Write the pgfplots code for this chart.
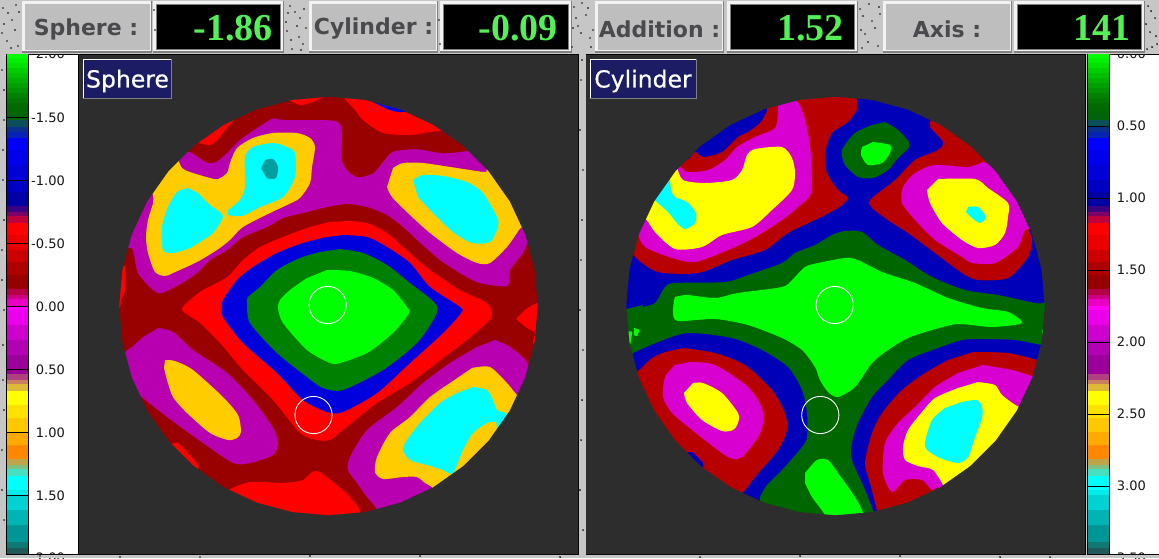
\documentclass[border=0pt]{standalone}
\usepackage{fontspec}
\usepackage{pgfplots}
\usepackage{pgfplotstable}
\pgfplotsset{compat=1.18}
\setmainfont{DejaVu Sans}
\newfontfamily\numfont{Liberation Serif}
\newfontfamily\ttlfont[FakeBold=0.5]{DejaVu Sans}
\definecolor{bgc}{HTML}{C6C6C6}
\definecolor{cellc}{HTML}{BEBEBE}
\definecolor{panelc}{HTML}{2D2D2D}
\definecolor{navyc}{HTML}{1C1C64}
\definecolor{txtc}{HTML}{4A4A4E}
\definecolor{numc}{HTML}{55F055}
\definecolor{dkred}{HTML}{990000}
\definecolor{redc}{HTML}{FF0000}
\definecolor{bluc}{HTML}{0000DD}
\definecolor{dgreen}{HTML}{008000}
\definecolor{limec}{HTML}{00FF00}
\definecolor{purp}{HTML}{B800B0}
\definecolor{goldc}{HTML}{FFCC00}
\definecolor{cyanc}{HTML}{00FFFF}
\definecolor{tealc}{HTML}{009E9E}
\definecolor{rb}{HTML}{0000B8}
\definecolor{rg}{HTML}{006600}
\definecolor{rr}{HTML}{B80000}
\definecolor{rm}{HTML}{D800D0}
\definecolor{yelc}{HTML}{FFFF00}
\pgfplotstableread{
x y
537.8 306
534.6 342.3
525.2 377.6
509.8 410.7
488.8 440.5
463 466.3
433.2 487.3
400.1 502.7
364.8 512.1
328.5 515.3
292.2 512.1
256.9 502.7
223.8 487.3
194 466.3
168.2 440.5
147.2 410.7
131.8 377.6
122.4 342.3
119.2 306
122.4 269.7
131.8 234.4
147.2 201.3
168.2 171.5
194 145.7
223.8 124.7
256.9 109.3
292.2 99.9
328.5 96.7
364.8 99.9
400.1 109.3
433.2 124.7
463 145.7
488.8 171.5
509.8 201.3
525.2 234.4
534.6 269.7
537.8 306
578 306
578 55
79 55
79 554
578 554
578 306
}\masktable
\newcommand\reg[2]{\addplot[fill=#1,draw=none,forget plot,smooth,tension=0.45] coordinates {#2} --cycle;}
\newcommand\rect[5]{\addplot[fill=#5,draw=none,forget plot] coordinates {(#1,#2) (#3,#2) (#3,#4) (#1,#4)} --cycle;}
\newcommand\band[5]{%
\addplot[fill={rgb,255:red,#3;green,#4;blue,#5},draw=none,forget plot] coordinates {(7,#1) (28,#1) (28,#2) (7,#2)} --cycle;
\addplot[fill={rgb,255:red,#3;green,#4;blue,#5},draw=none,forget plot] coordinates {(1088,#1) (1109,#1) (1109,#2) (1088,#2)} --cycle;}
\newcommand\bevel[6]{% x0 y0 x1 y1 light dark
\rect{#1}{#2}{#3}{#4}{#6}
\rect{#1}{#2}{#3-1.2}{#4-1.2}{#5}}
\newcommand\cell[2]{%
\bevel{#1}{1}{#2}{52.5}{white!95!black}{gray}
\rect{#1+2.5}{4}{#2-2.5}{50}{cellc}}
\newcommand\readout[2]{%
\bevel{#1-4}{1}{#2+4}{52.5}{white!95!black}{gray}
\rect{#1-1}{4}{#2+1}{50}{gray}
\rect{#1}{5}{#2}{49}{black}}
\pgfplotsset{pix/.style={at={(0,0)},anchor=south west,width=1159pt,height=558pt,scale only axis,
 xmin=0,xmax=1159,ymin=0,ymax=558,y dir=reverse,hide axis}}
\begin{document}
\begin{tikzpicture}
\path[use as bounding box] (0,0) rectangle (1159pt,558pt);
% ---------- colour scales
\begin{axis}[pix]
\rect{0}{0}{1159}{558}{bgc}
\rect{6}{54}{78.5}{555}{black}
\rect{7}{55}{28}{554}{white}
\rect{29}{55}{77.5}{554}{white}
\rect{1087}{54}{1159}{555}{black}
\rect{1110}{55}{1159}{554}{white}
\band{54}{58}{0}{255}{0}
\band{58}{63}{0}{240}{0}
\band{63}{68}{0}{225}{0}
\band{68}{73}{0}{205}{0}
\band{73}{78}{0}{190}{0}
\band{78}{83}{0}{175}{0}
\band{83}{88}{0}{160}{0}
\band{88}{93}{0}{145}{0}
\band{93}{98}{0}{130}{0}
\band{98}{103}{0}{118}{0}
\band{103}{108}{0}{108}{0}
\band{108}{113}{0}{104}{0}
\band{113}{120}{0}{100}{10}
\band{120}{127}{10}{80}{90}
\band{127}{132}{10}{50}{140}
\band{132}{138}{5}{35}{180}
\band{138}{150}{0}{0}{255}
\band{150}{165}{0}{0}{235}
\band{165}{180}{0}{0}{215}
\band{180}{192}{0}{0}{195}
\band{192}{206}{0}{0}{165}
\band{206}{212}{60}{0}{130}
\band{212}{216}{125}{0}{100}
\band{216}{223}{190}{0}{60}
\band{223}{235}{255}{0}{0}
\band{235}{250}{235}{0}{0}
\band{250}{262}{205}{0}{0}
\band{262}{275}{175}{0}{0}
\band{275}{289}{150}{0}{0}
\band{289}{295}{180}{0}{70}
\band{295}{299}{205}{0}{130}
\band{299}{306}{235}{0}{195}
\band{306}{310}{255}{0}{255}
\band{310}{325}{235}{0}{235}
\band{325}{340}{205}{0}{205}
\band{340}{355}{180}{0}{180}
\band{355}{374}{155}{0}{155}
\band{374}{380}{176}{64}{128}
\band{380}{384}{200}{128}{96}
\band{384}{391}{224}{184}{56}
\band{391}{405}{255}{255}{0}
\band{405}{418}{255}{225}{0}
\band{418}{432}{255}{200}{0}
\band{432}{445}{255}{170}{0}
\band{445}{459}{255}{136}{0}
\band{459}{465}{191}{165}{72}
\band{465}{469}{127}{191}{128}
\band{469}{476}{68}{224}{192}
\band{476}{490}{0}{255}{255}
\band{490}{495}{0}{235}{235}
\band{495}{510}{0}{210}{210}
\band{510}{525}{0}{180}{180}
\band{525}{542}{0}{150}{150}
\band{542}{548}{15}{120}{115}
\band{548}{554}{30}{90}{90}
% tick lines
\rect{7}{117.2}{28}{118.2}{black}
\rect{7}{179.8}{28}{180.8}{black}
\rect{7}{242.6}{28}{243.6}{black}
\rect{7}{305.5}{28}{306.5}{black}
\rect{7}{368.5}{28}{369.5}{black}
\rect{7}{431.5}{28}{432.5}{black}
\rect{7}{494.5}{28}{495.5}{black}
\rect{1088}{125.5}{1109}{126.5}{black}
\rect{1088}{197.5}{1109}{198.5}{black}
\rect{1088}{269.5}{1109}{270.5}{black}
\rect{1088}{341.5}{1109}{342.5}{black}
\rect{1088}{413.5}{1109}{414.5}{black}
\rect{1088}{485.5}{1109}{486.5}{black}
\end{axis}
\begin{axis}[pix]
\addplot[only marks,mark=none,forget plot,
 nodes near coords,
 point meta=explicit symbolic,
 nodes near coords style={anchor=east,inner sep=0pt,font=\fontsize{13}{15}\selectfont,color=black!92},
 nodes near coords align={anchor=east}]
 table[meta=l,x=x,y=y] {
x y l
65 54 2.00
65 117.5 -1.50
65 180.5 -1.00
65 243.5 -0.50
65 306.5 0.00
65 369.5 0.50
65 432.5 1.00
65 495.5 1.50
65 558 2.00
1146 54 0.00
1146 126 0.50
1146 198 1.00
1146 270 1.50
1146 342 2.00
1146 414 2.50
1146 486 3.00
1146 558 3.50
};
\end{axis}
% ---------- Sphere map and Cylinder map
\begin{axis}[pix]
\rect{0}{0}{1159}{54}{bgc}
\rect{0}{555}{1159}{558}{bgc}
% stone texture of the window background
\addplot[only marks,mark=*,mark size=0.7pt,mark options={draw=none,fill=white},forget plot] coordinates {
(3,8)(12,20)(7,41)(16,5)(2,33)(18,46)(290,6)(300,18)(287,31)(303,44)(295,12)(306,28)(292,49)(299,37)(574,7)(586,15)(578,26)(590,38)(572,47)(582,3)(593,30)(860,9)(872,21)(865,34)(878,46)(869,4)(880,14)(862,48)(1148,6)(1155,18)(1150,32)(1157,44)(1147,49)(154,10)(155,30)(439,20)(440,44)(2,70)(4,120)(3,180)(2,250)(4,310)(3,380)(2,450)(4,520)(581,80)(583,170)(581,260)(583,350)(581,440)(583,530)(40,556)(200,557)(420,556)(700,557)(900,556)(1050,557)
};
\addplot[only marks,mark=*,mark size=0.7pt,mark options={draw=none,fill=gray},forget plot] coordinates {
(8,13)(15,30)(4,24)(11,48)(19,12)(288,13)(297,26)(304,9)(291,40)(301,50)(286,22)(576,18)(588,8)(581,33)(591,47)(573,28)(863,16)(875,28)(868,42)(879,7)(861,30)(1151,11)(1146,24)(1156,36)(1152,47)(4,90)(3,150)(4,220)(2,280)(3,345)(4,410)(2,490)(582,60)(580,130)(582,220)(580,310)(582,400)(580,490)(120,557)(310,556)(560,557)(800,556)(1000,557)
};
\rect{78.5}{54}{579}{555}{black}
\rect{79}{55}{578}{554}{dkred}
\reg{redc}{(343,97)(355,110)(363,120)(383,133)(410,135)(430,132)(443,130)(450,120)(400,90)(343,85)}
\reg{bluc}{(365,98)(373,102)(385,108)(393,111)(406,112)(410,105)(380,90)}
\reg{redc}{(288,100)(300,105)(310,103)(323,97)(323,90)(288,90)}
\reg{redc}{(198,143)(210,145)(217,140)(227,128)(238,115)(232,110)(195,130)}
\reg{redc}{(125,266)(125,290)(121,300)(120,307)(112,307)(112,266)}
\reg{redc}{(516,319)(525,310)(537,303)(545,303)(545,343)(533,343)(535,333)(527,328)}
\reg{redc}{(228,490)(250,482)(283,483)(303,480)(312,472)(320,472)(337,485)(350,497)(360,513)(340,530)(260,530)(228,500)}
\reg{redc}{(171,444)(178,443)(188,453)(198,465)(195,472)(165,450)}
\reg{purp}{(468.3,151)(443.3,153.3)(416.7,149.3)(393.3,151.7)(383.3,161.7)(373.3,173.3)(358.3,177.3)(348.3,171.7)(341.7,160)(341.7,130)(333.3,120.7)(283.3,120)(273.3,118.3)(256.7,128.3)(240,140)(226.7,153.3)(216.7,161.7)(206.7,162.7)(188.3,151.7)(178.3,160)(150,190)(110,250)(128,248)(133,250)(138,273)(153,290)(162,293)(182,283)(197,273)(210,260)(227,250)(243,237)(267,227)(283,218)(303,213)(327,207)(347,204)(367,207)(387,215)(403,227)(417,240)(440,260)(463,275)(480,283)(507,286)(510,270)(523,253)(527,244)(540,240)(530,190)(490,150)}
\reg{goldc}{(178,159)(182,168)(190,172)(210,178)(218,179)(227,173)(230,163)(237,148)(253,138)(273,133)(297,133)(310,138)(315,147)(312,167)(310,183)(300,198)(287,205)(270,213)(243,227)(230,240)(217,250)(197,262)(173,273)(165,276)(155,272)(148,253)(146,237)(148,220)(153,203)(152,193)(140,190)(165,160)}
\reg{cyanc}{(188,188)(177,192)(168,207)(162,227)(163,250)(173,253)(190,248)(203,240)(213,233)(223,216)(210,205)(198,193)}
\reg{cyanc}{(228,215)(242,216)(260,207)(283,197)(295,177)(295,153)(287,147)(273,143)(253,147)(245,157)(245,187)(240,200)(228,210)}
\reg{tealc}{(265,160)(273,159)(278,167)(276,178)(267,178)(261,168)}
\reg{goldc}{(393,168)(403,163)(423,163)(457,168)(485,172)(487,168)(500,165)(540,220)(522,227)(517,233)(507,247)(490,263)(477,263)(457,253)(430,233)(410,215)(392,197)(387,187)}
\reg{cyanc}{(413,180)(423,175)(443,176)(467,182)(483,193)(497,217)(498,227)(490,242)(472,243)(453,232)(433,213)(418,197)}
\reg{redc}{(347,221)(367,223)(387,233)(410,253)(430,270)(460,290)(487,303)(492,315)(487,323)(463,343)(443,358)(410,383)(377,403)(343,430)(330,440)(317,440)(300,433)(273,400)(243,370)(220,343)(200,323)(182,310)(190,300)(203,290)(227,277)(243,260)(260,247)(283,237)(310,227)(330,222)}
\reg{bluc}{(343,235)(367,237)(387,247)(410,263)(430,287)(460,307)(461,313)(443,333)(410,363)(377,393)(343,412)(327,412)(303,400)(277,373)(243,343)(223,317)(222,307)(223,300)(237,280)(253,267)(277,253)(303,243)(327,237)}
\reg{dgreen}{(340,249)(363,253)(387,265)(410,283)(435,303)(436,315)(417,343)(383,370)(343,390)(323,388)(307,377)(277,353)(250,323)(247,303)(248,297)(260,287)(277,270)(300,258)(320,252)}
\reg{limec}{(327,270)(350,271)(373,278)(393,290)(407,307)(409,313)(393,333)(367,353)(340,363)(330,363)(307,350)(283,323)(278,308)(280,300)(290,290)(307,278)}
\reg{purp}{(158,328)(173,332)(193,350)(227,373)(253,400)(273,428)(278,443)(273,455)(250,463)(233,463)(203,443)(167,417)(137,393)(120,375)(125,353)(132,347)(143,337)}
\reg{goldc}{(165,360)(175,361)(193,370)(223,397)(238,415)(241,432)(237,438)(228,440)(210,433)(187,413)(173,397)(167,380)(164,368)}
\reg{purp}{(495,340)(510,347)(527,362)(527,377)(520,393)(530,420)(430,520)(377,530)(377,510)(367,497)(357,483)(348,470)(350,457)(367,430)(397,407)(423,383)(450,363)(477,347)}
\reg{dkred}{(403,503)(417,495)(420,495)(405,507)}
\reg{goldc}{(472,368)(490,367)(507,383)(517,395)(525,400)(490,470)(440,495)(432,487)(425,483)(417,477)(403,477)(383,479)(375,472)(377,457)(390,433)(410,417)(430,397)(450,383)}
\reg{cyanc}{(473,387)(487,390)(493,400)(497,410)(506,413)(506,418)(497,428)(496,422)(487,423)(473,433)(463,450)(453,473)(443,470)(427,465)(410,460)(403,450)(407,440)(420,423)(440,403)(457,393)}
\addplot[fill=panelc,draw=none,forget plot] table[x=x,y=y] {\masktable} --cycle;
% Cylinder
\rect{585.5}{54}{1086}{555}{black}
\rect{586}{55}{1085}{554}{rb}
\reg{rr}{(857,97)(857,85)(760,85)(767,108)(765,115)(760,123)(748,132)(738,137)(722,152)(703,157)(695,152)(687,160)(670,160)(625,225)(637,237)(634,247)(635,257)(658,272)(698,273)(732,260)(765,250)(788,233)(815,220)(838,208)(848,198)(838,190)(827,173)(825,153)(832,133)(848,122)(857,110)}
\reg{rm}{(778,105)(790,95)(797,101)(803,113)(808,133)(811,157)(811,193)(798,207)(782,220)(755,237)(728,250)(695,262)(672,258)(645,247)(638,233)(642,222)(625,215)(665,165)(678,165)(687,172)(708,170)(725,160)(737,147)(755,137)(775,128)(778,110)}
\reg{yelc}{(677,167)(683,180)(705,183)(732,180)(742,170)(747,155)(755,149)(782,147)(792,158)(795,173)(792,190)(772,210)(752,227)(722,235)(702,247)(675,249)(655,232)(645,218)(630,210)(665,165)}
\reg{cyanc}{(670,178)(671,190)(675,197)(687,202)(696,213)(695,223)(685,229)(677,223)(668,212)(655,200)(650,190)}
\reg{rr}{(931,120)(930,127)(943,142)(938,150)(915,160)(895,180)(869,202)(885,218)(908,233)(935,253)(962,273)(978,280)(1008,278)(1028,257)(1032,240)(1028,223)(1050,230)(1000,150)(940,110)}
\reg{rm}{(983,162)(968,167)(935,165)(915,173)(903,187)(902,203)(915,220)(935,240)(962,257)(972,263)(995,263)(1018,247)(1025,230)(1040,225)(1010,170)}
\reg{yelc}{(938,179)(975,179)(988,188)(1008,203)(1008,217)(1005,233)(995,245)(978,248)(962,240)(942,223)(930,203)(927,190)}
\reg{cyanc}{(968,207)(978,207)(986,217)(980,223)(972,218)(966,212)}
\reg{rg}{(642,307)(655,303)(665,287)(675,283)(725,282)(748,275)(782,263)(795,253)(815,245)(832,235)(845,231)(862,232)(878,245)(905,260)(932,277)(965,290)(998,295)(1035,303)(1043,303)(1050,303)(1050,345)(1042,345)(1015,340)(982,339)(962,340)(938,348)(908,360)(888,380)(872,397)(858,423)(852,443)(852,460)(865,490)(873,512)(870,530)(760,530)(760,500)(760,497)(767,485)(782,470)(802,447)(807,437)(807,413)(802,390)(788,367)(762,350)(732,338)(688,333)(658,342)(635,352)(630,355)(620,355)(620,309)(626,309)(643,305)}
\reg{limec}{(675,297)(687,295)(715,298)(738,293)(782,287)(792,280)(805,267)(818,263)(845,258)(858,260)(882,272)(915,283)(948,298)(982,308)(1008,312)(1022,323)(992,327)(958,324)(932,330)(908,338)(888,350)(872,363)(855,387)(838,397)(828,392)(820,380)(815,367)(802,350)(782,338)(748,325)(715,319)(678,321)(673,313)(674,300)}
\reg{limec}{(627,332)(632,332)(630,345)(628,345)}
\reg{limec}{(634,328)(639,330)(637,336)(634,335)}
\reg{limec}{(1042,330)(1046,330)(1046,334)(1042,334)}
\reg{limec}{(805,473)(817,460)(828,460)(838,473)(855,497)(863,513)(860,525)(825,525)(825,515)(812,497)(805,483)}
\reg{rg}{(885,122)(898,130)(910,145)(898,158)(888,170)(873,178)(858,177)(845,165)(842,150)(855,133)(872,125)}
\reg{limec}{(873,142)(890,145)(890,153)(882,163)(868,165)(861,155)(862,147)}
\reg{rr}{(683,348)(715,353)(745,365)(772,390)(785,413)(787,430)(778,450)(755,477)(742,493)(720,500)(650,440)(625,380)(637,372)(652,358)(665,352)}
\reg{rb}{(687,453)(692,452)(703,463)(702,468)(695,463)}
\reg{rm}{(690,362)(715,365)(748,387)(762,408)(763,423)(758,437)(742,457)(730,458)(715,448)(692,430)(672,413)(663,397)(665,377)(675,365)}
\reg{yelc}{(693,383)(703,383)(722,393)(738,413)(738,423)(733,430)(722,431)(702,420)(687,403)(684,393)}
\reg{rr}{(973,352)(1008,353)(1037,360)(1050,365)(1040,430)(950,510)(880,525)(877,511)(870,483)(865,463)(872,433)(882,413)(902,390)(925,373)(948,360)}
\reg{rm}{(983,365)(1012,370)(1032,376)(1050,380)(1030,430)(960,510)(940,488)(932,490)(922,480)(905,480)(892,492)(883,473)(885,443)(898,423)(915,407)(935,387)(958,373)}
\reg{yelc}{(978,382)(995,385)(1002,395)(1019,407)(1035,410)(990,480)(945,495)(943,485)(933,470)(918,466)(905,460)(903,447)(908,430)(922,412)(935,398)(958,388)}
\reg{cyanc}{(962,402)(977,400)(982,407)(982,418)(975,437)(968,457)(958,463)(940,458)(927,450)(925,442)(932,420)(945,408)}
\addplot[fill=panelc,draw=none,forget plot] table[x expr=\thisrow{x}+507,y=y] {\masktable} --cycle;
\addplot[only marks,mark=o,mark size=18.6pt,mark options={draw=white,line width=.9pt},forget plot]
 coordinates {(327.7,305)(313.5,415)(834.7,305)(820.3,415)};
% Header
\cell{22}{152}
\readout{157}{280}
\cell{309}{438}
\readout{444}{568}
\cell{595}{724}
\readout{731}{854}
\cell{883}{1012}
\readout{1018}{1141}
% Title boxes
\rect{83}{59}{172}{99}{gray}
\rect{83}{59}{170.5}{97.5}{white}
\rect{84}{60}{170.5}{97.5}{navyc}
\rect{590}{59}{697}{99}{gray}
\rect{590}{59}{695.5}{97.5}{white}
\rect{591}{60}{695.5}{97.5}{navyc}
\end{axis}
% ---------- Text
\begin{axis}[pix]
\node[inner sep=0,text=txtc,font=\fontsize{22}{26}\selectfont\bfseries] at (axis cs:86,29) {Sphere :};
\node[inner sep=0,text=txtc,font=\fontsize{22}{26}\selectfont\bfseries] at (axis cs:373.5,29) {Cylinder :};
\node[inner sep=0,text=txtc,font=\fontsize{22}{26}\selectfont\bfseries] at (axis cs:659.5,29) {Addition :};
\node[inner sep=0,text=txtc,font=\fontsize{22}{26}\selectfont\bfseries] at (axis cs:947,29) {Axis :};
\node[inner sep=0,anchor=east,text=numc,font=\numfont\fontsize{38}{40}\selectfont\bfseries] at (axis cs:273,28) {-1.86};
\node[inner sep=0,anchor=east,text=numc,font=\numfont\fontsize{38}{40}\selectfont\bfseries] at (axis cs:558,28) {-0.09};
\node[inner sep=0,anchor=east,text=numc,font=\numfont\fontsize{38}{40}\selectfont\bfseries] at (axis cs:844,28) {1.52};
\node[inner sep=0,anchor=east,text=numc,font=\numfont\fontsize{38}{40}\selectfont\bfseries] at (axis cs:1131,28) {141};
\node[inner sep=0,text=white,font=\ttlfont\fontsize{23.5}{26}\selectfont] at (axis cs:127.5,81) {Sphere};
\node[inner sep=0,text=white,font=\ttlfont\fontsize{23.5}{26}\selectfont] at (axis cs:643,81) {Cylinder};
\end{axis}
\end{tikzpicture}
\end{document}
